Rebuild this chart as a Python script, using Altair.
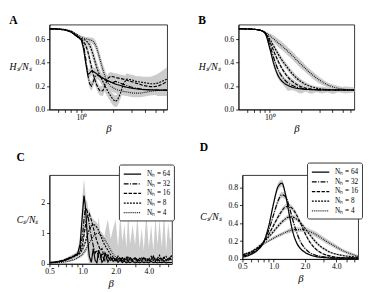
import altair as alt
import pandas as pd

FONT = "Liberation Serif"
NH = ["64", "32", "16", "8", "4"]
DASH = [[1, 0], [5, 1.5, 1, 1.5], [3.5, 1.5], [2, 1.2], [0.9, 1.1]]
BAND = "#cccccc"

# ---------------- Panel A : H_s/N_s (noisy) ----------------
beta_a = [0.5, 0.6, 0.7, 0.8, 0.9, 0.95, 1.0, 1.05, 1.1, 1.15, 1.2, 1.25, 1.3, 1.35, 1.4,
          1.45, 1.5, 1.6, 1.7, 1.8, 1.9, 2.0, 2.1, 2.2, 2.35, 2.5, 2.7, 2.9, 3.1, 3.3, 3.6,
          3.9, 4.2, 4.5, 4.9, 5.3, 5.8, 6.5]
H_A = {
    "64": [0.690, 0.687, 0.680, 0.662, 0.628, 0.612, 0.595, 0.52, 0.40, 0.30, 0.31, 0.33, 0.325,
           0.315, 0.305, 0.295, 0.285, 0.27, 0.255, 0.245, 0.235, 0.225, 0.218, 0.212, 0.205,
           0.198, 0.19, 0.185, 0.18, 0.177, 0.173, 0.17, 0.169, 0.168, 0.167, 0.166, 0.166, 0.165],
    "32": [0.690, 0.687, 0.680, 0.662, 0.628, 0.612, 0.598, 0.55, 0.44, 0.30, 0.22, 0.20, 0.24,
           0.28, 0.295, 0.29, 0.28, 0.265, 0.25, 0.24, 0.235, 0.23, 0.24, 0.235, 0.225, 0.215,
           0.205, 0.195, 0.188, 0.182, 0.176, 0.172, 0.17, 0.169, 0.168, 0.167, 0.167, 0.166],
    "16": [0.690, 0.687, 0.681, 0.664, 0.632, 0.615, 0.60, 0.58, 0.55, 0.50, 0.43, 0.36, 0.30,
           0.25, 0.21, 0.18, 0.16, 0.16, 0.22, 0.27, 0.285, 0.28, 0.275, 0.27, 0.265, 0.26,
           0.25, 0.24, 0.235, 0.225, 0.215, 0.205, 0.20, 0.195, 0.195, 0.20, 0.215, 0.24],
    "8": [0.690, 0.687, 0.682, 0.666, 0.636, 0.62, 0.605, 0.60, 0.59, 0.575, 0.55, 0.51, 0.46,
          0.41, 0.36, 0.32, 0.29, 0.24, 0.19, 0.15, 0.115, 0.085, 0.07, 0.08, 0.14, 0.22, 0.26,
          0.255, 0.25, 0.24, 0.235, 0.23, 0.225, 0.22, 0.22, 0.225, 0.24, 0.26],
    "4": [0.690, 0.688, 0.684, 0.672, 0.645, 0.63, 0.618, 0.61, 0.605, 0.60, 0.595, 0.59, 0.58,
          0.56, 0.525, 0.48, 0.43, 0.34, 0.27, 0.225, 0.20, 0.185, 0.175, 0.168, 0.16, 0.155,
          0.15, 0.145, 0.14, 0.14, 0.14, 0.145, 0.15, 0.155, 0.16, 0.163, 0.165, 0.165],
}
H_A_sd = {
    "64": [0.002, 0.002, 0.003, 0.004, 0.006, 0.008, 0.012, 0.03, 0.04, 0.04, 0.04, 0.04, 0.035,
           0.035, 0.03, 0.03, 0.035, 0.03, 0.035, 0.03, 0.04, 0.035, 0.03, 0.04, 0.035, 0.03,
           0.04, 0.035, 0.04, 0.045, 0.04, 0.045, 0.04, 0.045, 0.04, 0.05, 0.05, 0.05],
    "32": [0.002, 0.002, 0.003, 0.004, 0.006, 0.008, 0.012, 0.03, 0.04, 0.045, 0.04, 0.04, 0.04,
           0.04, 0.035, 0.035, 0.035, 0.03, 0.03, 0.03, 0.03, 0.035, 0.03, 0.03, 0.03, 0.03,
           0.03, 0.03, 0.03, 0.03, 0.03, 0.03, 0.03, 0.03, 0.03, 0.035, 0.04, 0.04],
    "16": [0.002, 0.002, 0.003, 0.004, 0.006, 0.008, 0.012, 0.02, 0.03, 0.04, 0.045, 0.045, 0.045,
           0.04, 0.04, 0.04, 0.04, 0.045, 0.045, 0.04, 0.035, 0.035, 0.035, 0.035, 0.035, 0.035,
           0.035, 0.035, 0.035, 0.035, 0.035, 0.035, 0.04, 0.04, 0.045, 0.05, 0.06, 0.07],
    "8": [0.002, 0.002, 0.003, 0.004, 0.006, 0.008, 0.012, 0.015, 0.02, 0.03, 0.04, 0.045, 0.05,
          0.05, 0.05, 0.05, 0.05, 0.05, 0.05, 0.05, 0.05, 0.05, 0.05, 0.05, 0.05, 0.05, 0.05,
          0.045, 0.045, 0.045, 0.05, 0.05, 0.055, 0.06, 0.07, 0.08, 0.09, 0.1],
    "4": [0.002, 0.002, 0.003, 0.004, 0.006, 0.008, 0.012, 0.015, 0.015, 0.02, 0.02, 0.025, 0.03,
          0.035, 0.04, 0.045, 0.05, 0.05, 0.05, 0.045, 0.04, 0.04, 0.035, 0.035, 0.035, 0.035,
          0.035, 0.035, 0.035, 0.035, 0.035, 0.035, 0.035, 0.035, 0.035, 0.035, 0.035, 0.035],
}

# ---------------- Panels B, D : smooth ----------------
beta_s = [0.5, 0.6, 0.7, 0.8, 0.9, 1.0, 1.1, 1.2, 1.3, 1.4, 1.5, 1.65, 1.8, 2.0, 2.2, 2.5, 2.8,
          3.2, 3.6, 4.0, 4.6, 5.3, 6.5]
H_B = {
    "64": [0.690, 0.688, 0.685, 0.678, 0.650, 0.52, 0.38, 0.29, 0.245, 0.22, 0.205, 0.19, 0.182,
           0.176, 0.172, 0.170, 0.168, 0.167, 0.167, 0.167, 0.167, 0.167, 0.167],
    "32": [0.690, 0.688, 0.685, 0.678, 0.652, 0.55, 0.43, 0.34, 0.285, 0.25, 0.225, 0.205, 0.192,
           0.182, 0.176, 0.171, 0.169, 0.168, 0.167, 0.167, 0.167, 0.167, 0.167],
    "16": [0.690, 0.688, 0.685, 0.678, 0.655, 0.58, 0.49, 0.415, 0.355, 0.31, 0.275, 0.24, 0.215,
           0.195, 0.183, 0.175, 0.171, 0.169, 0.168, 0.167, 0.167, 0.167, 0.167],
    "8": [0.690, 0.688, 0.685, 0.678, 0.657, 0.60, 0.535, 0.475, 0.425, 0.385, 0.35, 0.305, 0.27,
          0.238, 0.215, 0.195, 0.183, 0.175, 0.171, 0.169, 0.168, 0.167, 0.167],
    "4": [0.690, 0.688, 0.685, 0.678, 0.66, 0.63, 0.60, 0.57, 0.545, 0.52, 0.495, 0.46, 0.425,
          0.385, 0.35, 0.305, 0.27, 0.235, 0.21, 0.195, 0.18, 0.172, 0.168],
}
H_B_sd = {
    "64": [0.002, 0.002, 0.003, 0.004, 0.01, 0.025, 0.03, 0.025, 0.02, 0.03, 0.045, 0.025, 0.03,
           0.04, 0.02, 0.035, 0.02, 0.03, 0.02, 0.035, 0.02, 0.03, 0.02],
    "32": [0.002, 0.002, 0.003, 0.004, 0.01, 0.02, 0.025, 0.025, 0.02, 0.02, 0.02, 0.02, 0.015,
           0.02, 0.015, 0.015, 0.02, 0.015, 0.02, 0.02, 0.015, 0.02, 0.02],
    "16": [0.002, 0.002, 0.003, 0.004, 0.008, 0.02, 0.02, 0.02, 0.02, 0.02, 0.02, 0.02, 0.02,
           0.015, 0.015, 0.015, 0.015, 0.015, 0.015, 0.015, 0.015, 0.015, 0.015],
    "8": [0.002, 0.002, 0.003, 0.004, 0.008, 0.02, 0.025, 0.025, 0.025, 0.025, 0.025, 0.025, 0.025,
          0.02, 0.02, 0.015, 0.015, 0.015, 0.015, 0.015, 0.015, 0.015, 0.015],
    "4": [0.002, 0.002, 0.003, 0.004, 0.008, 0.02, 0.03, 0.035, 0.035, 0.035, 0.035, 0.035, 0.035,
          0.035, 0.03, 0.03, 0.03, 0.025, 0.02, 0.02, 0.02, 0.015, 0.015],
}
C_D = {
    "64": [0.02, 0.05, 0.10, 0.19, 0.38, 0.63, 0.81, 0.85, 0.72, 0.52, 0.34, 0.19, 0.12, 0.075,
           0.05, 0.03, 0.02, 0.015, 0.01, 0.01, 0.01, 0.01, 0.01],
    "32": [0.03, 0.06, 0.11, 0.19, 0.33, 0.50, 0.65, 0.72, 0.70, 0.60, 0.47, 0.31, 0.20, 0.12,
           0.075, 0.045, 0.03, 0.02, 0.015, 0.01, 0.01, 0.01, 0.01],
    "16": [0.04, 0.07, 0.12, 0.19, 0.28, 0.38, 0.47, 0.54, 0.585, 0.59, 0.57, 0.50, 0.41, 0.29,
           0.20, 0.12, 0.075, 0.045, 0.03, 0.02, 0.015, 0.01, 0.01],
    "8": [0.05, 0.08, 0.13, 0.19, 0.25, 0.31, 0.37, 0.415, 0.45, 0.47, 0.47, 0.45, 0.41, 0.345,
          0.28, 0.20, 0.145, 0.10, 0.07, 0.055, 0.04, 0.03, 0.02],
    "4": [0.05, 0.08, 0.12, 0.17, 0.205, 0.235, 0.26, 0.28, 0.30, 0.315, 0.325, 0.33, 0.33,
          0.325, 0.31, 0.28, 0.245, 0.20, 0.165, 0.135, 0.095, 0.065, 0.03],
}
C_D_sd = {
    "64": [0.01, 0.01, 0.015, 0.02, 0.03, 0.04, 0.04, 0.04, 0.04, 0.035, 0.03, 0.02, 0.015, 0.01,
           0.01, 0.01, 0.01, 0.01, 0.01, 0.01, 0.01, 0.01, 0.01],
    "32": [0.01, 0.01, 0.015, 0.02, 0.025, 0.03, 0.035, 0.035, 0.035, 0.03, 0.03, 0.025, 0.02,
           0.015, 0.01, 0.01, 0.01, 0.01, 0.01, 0.01, 0.01, 0.01, 0.01],
    "16": [0.01, 0.01, 0.015, 0.02, 0.02, 0.025, 0.03, 0.03, 0.03, 0.03, 0.03, 0.03, 0.025, 0.02,
           0.015, 0.015, 0.01, 0.01, 0.01, 0.01, 0.01, 0.01, 0.01],
    "8": [0.01, 0.01, 0.015, 0.015, 0.02, 0.02, 0.025, 0.025, 0.025, 0.025, 0.025, 0.025, 0.025,
          0.025, 0.02, 0.02, 0.015, 0.015, 0.01, 0.01, 0.01, 0.01, 0.01],
    "4": [0.01, 0.01, 0.015, 0.015, 0.015, 0.02, 0.02, 0.02, 0.02, 0.025, 0.025, 0.025, 0.025,
          0.03, 0.03, 0.03, 0.03, 0.03, 0.025, 0.025, 0.02, 0.02, 0.015],
}

# ---------------- Panel C : C_s/N_s (noisy) ----------------
beta_c = [0.5, 0.55, 0.6, 0.65, 0.7, 0.75, 0.8, 0.85, 0.9, 0.95,
          1.0, 1.03, 1.06, 1.1, 1.15, 1.2, 1.25, 1.3, 1.35, 1.4,
          1.45, 1.5, 1.55, 1.6, 1.7, 1.8, 1.9, 2.0, 2.1, 2.2,
          2.3, 2.4, 2.5, 2.6, 2.7, 2.85, 3.0, 3.15, 3.3, 3.45,
          3.6, 3.8, 4.0, 4.2, 4.4, 4.6, 4.8, 5.0, 5.25, 5.5,
          5.75, 6.0, 6.25, 6.5]
C_C = {
    "64": [0.03, 0.05, 0.07, 0.09, 0.13, 0.17, 0.22, 0.27, 0.33, 0.65,
           1.7, 2.25, 1.9, 1.0, 0.25, 0.05, 0.5, 0.12, 0.03, 0.45,
           0.3, 0.05, 0.12, 0.35, 0.06, 0.22, 0.08, 0.15, 0.05, 0.12,
           0.04, 0.1, 0.03, 0.07, 0.04, 0.08, 0.03, 0.06, 0.03, 0.07,
           0.04, 0.06, 0.03, 0.08, 0.04, 0.06, 0.03, 0.05, 0.04, 0.06,
           0.03, 0.05, 0.04, 0.05],
    "32": [0.04, 0.05, 0.07, 0.1, 0.14, 0.19, 0.24, 0.29, 0.33, 0.48,
           0.95, 1.45, 1.85, 1.75, 1.3, 0.9, 0.6, 0.35, 0.45, 0.22,
           0.14, 0.35, 0.18, 0.1, 0.3, 0.12, 0.2, 0.1, 0.25, 0.12,
           0.2, 0.1, 0.16, 0.08, 0.22, 0.1, 0.18, 0.08, 0.15, 0.1,
           0.2, 0.08, 0.14, 0.1, 0.25, 0.08, 0.15, 0.1, 0.2, 0.08,
           0.14, 0.1, 0.18, 0.12],
    "16": [0.05, 0.06, 0.08, 0.11, 0.15, 0.19, 0.23, 0.27, 0.31, 0.4,
           0.65, 0.95, 1.25, 1.55, 1.65, 1.45, 1.2, 0.95, 0.75, 0.6,
           0.45, 0.5, 0.3, 0.35, 0.22, 0.12, 0.2, 0.1, 0.15, 0.22,
           0.1, 0.18, 0.12, 0.25, 0.1, 0.15, 0.2, 0.1, 0.18, 0.12,
           0.22, 0.1, 0.16, 0.25, 0.12, 0.2, 0.1, 0.18, 0.15, 0.22,
           0.1, 0.2, 0.15, 0.25],
    "8": [0.04, 0.05, 0.07, 0.09, 0.12, 0.16, 0.2, 0.24, 0.29, 0.35,
          0.48, 0.6, 0.72, 0.92, 1.12, 1.24, 1.3, 1.27, 1.2, 1.1,
          0.95, 0.82, 0.7, 0.6, 0.45, 0.3, 0.22, 0.15, 0.12, 0.18,
          0.1, 0.15, 0.22, 0.12, 0.18, 0.1, 0.2, 0.14, 0.1, 0.22,
          0.14, 0.2, 0.1, 0.15, 0.22, 0.12, 0.18, 0.28, 0.1, 0.2,
          0.25, 0.12, 0.22, 0.28],
    "4": [0.02, 0.03, 0.04, 0.05, 0.07, 0.09, 0.12, 0.15, 0.2, 0.25,
          0.32, 0.38, 0.45, 0.55, 0.68, 0.8, 0.9, 0.97, 1.0, 1.0,
          0.97, 0.92, 0.85, 0.78, 0.62, 0.45, 0.32, 0.22, 0.16, 0.12,
          0.1, 0.14, 0.1, 0.08, 0.12, 0.1, 0.08, 0.12, 0.1, 0.15,
          0.1, 0.12, 0.08, 0.15, 0.1, 0.12, 0.18, 0.1, 0.14, 0.2,
          0.12, 0.15, 0.22, 0.25],
}
C_C_sd = {
    "64": [0.02, 0.02, 0.03, 0.03, 0.04, 0.05, 0.06, 0.07, 0.1, 0.3,
           0.6, 0.55, 0.4, 0.7, 0.9, 1.3, 1.0, 1.2, 0.8, 1.1,
           0.7, 1.0, 0.5, 0.7, 1.4, 0.6, 1.1, 1.3, 0.5, 1.5,
           0.7, 1.2, 0.5, 1.6, 0.6, 1.2, 0.6, 1.5, 0.5, 1.1,
           0.4, 1.6, 0.5, 1.2, 0.4, 1.5, 0.6, 1.4, 0.5, 1.6,
           0.4, 1.3, 0.7, 1.0],
    "32": [0.02, 0.02, 0.03, 0.03, 0.04, 0.05, 0.05, 0.06, 0.08, 0.15,
           0.3, 0.35, 0.3, 0.3, 0.3, 0.3, 0.3, 0.35, 0.3, 0.3,
           0.3, 0.3, 0.3, 0.3, 0.25, 0.25, 0.25, 0.25, 0.25, 0.25,
           0.25, 0.25, 0.25, 0.25, 0.25, 0.25, 0.25, 0.25, 0.25, 0.25,
           0.25, 0.25, 0.25, 0.25, 0.25, 0.25, 0.25, 0.25, 0.25, 0.25,
           0.25, 0.25, 0.25, 0.25],
    "16": [0.02, 0.02, 0.03, 0.03, 0.04, 0.05, 0.05, 0.06, 0.08, 0.12,
           0.2, 0.2, 0.2, 0.15, 0.15, 0.15, 0.2, 0.2, 0.2, 0.2,
           0.2, 0.2, 0.2, 0.2, 0.2, 0.2, 0.2, 0.2, 0.2, 0.2,
           0.2, 0.2, 0.2, 0.2, 0.2, 0.2, 0.2, 0.2, 0.2, 0.2,
           0.2, 0.2, 0.2, 0.2, 0.2, 0.2, 0.2, 0.2, 0.2, 0.2,
           0.2, 0.2, 0.2, 0.2],
    "8": [0.02, 0.02, 0.03, 0.03, 0.04, 0.04, 0.05, 0.05, 0.06, 0.08,
          0.1, 0.12, 0.12, 0.15, 0.15, 0.15, 0.15, 0.15, 0.15, 0.15,
          0.15, 0.15, 0.15, 0.15, 0.15, 0.15, 0.15, 0.15, 0.15, 0.15,
          0.15, 0.15, 0.15, 0.15, 0.15, 0.15, 0.15, 0.15, 0.15, 0.15,
          0.15, 0.15, 0.15, 0.15, 0.15, 0.15, 0.15, 0.15, 0.15, 0.15,
          0.15, 0.15, 0.15, 0.15],
    "4": [0.01, 0.01, 0.02, 0.02, 0.03, 0.03, 0.04, 0.04, 0.05, 0.06,
          0.07, 0.08, 0.08, 0.1, 0.1, 0.1, 0.1, 0.1, 0.1, 0.1,
          0.1, 0.1, 0.1, 0.1, 0.1, 0.1, 0.1, 0.1, 0.1, 0.1,
          0.1, 0.1, 0.1, 0.1, 0.1, 0.1, 0.1, 0.1, 0.1, 0.1,
          0.1, 0.1, 0.1, 0.1, 0.1, 0.1, 0.1, 0.1, 0.1, 0.1,
          0.1, 0.1, 0.1, 0.1],
}


def long_df(betas, mean, sd):
    rows = []
    for nh in NH:
        for b, m, s in zip(betas, mean[nh], sd[nh]):
            rows.append({"beta": b, "v": m, "lo": max(0.0, m - s), "hi": m + s, "Nh": nh})
    return pd.DataFrame(rows)


XMINOR = [0.6, 0.7, 0.8, 0.9, 1, 2, 3, 4, 5, 6]
XTICKS_CD = [0.5, 0.6, 0.7, 0.8, 0.9, 1, 2, 3, 4, 5, 6]
LBL_AB = "datum.value == 1 ? '10⁰' : ''"
LBL_CD = ("datum.value == 0.5 ? '0.5' : datum.value == 1 ? '1.0' : "
          "datum.value == 2 ? '2.0' : datum.value == 4 ? '4.0' : ''")


def panel(df, letter, ytitle, ydom, yvals, yfmt, w, h, xvals, xlbl, ytx, interp,
          legend_xy=None, title_offset=0):
    x_axis = alt.Axis(values=xvals, labelExpr=xlbl, title="β", titleFont=FONT,
                      titleFontStyle="italic", titleFontSize=11, titleFontWeight="normal",
                      titlePadding=2, labelFont=FONT, labelFontSize=8, labelFlush=False,
                      labelOverlap=False, tickSize=3, tickColor="black", domainColor="black",
                      labelColor="black", grid=False, labelPadding=1)
    y_axis = alt.Axis(values=yvals, format=yfmt, title=ytitle, titleAngle=0,
                      titleAlign="right", titleBaseline="middle", titleX=ytx, titleY=h / 2,
                      titleFont=FONT, titleFontStyle="italic", titleFontSize=10,
                      titleFontWeight="normal", labelFont=FONT, labelFontSize=8, tickSize=3,
                      tickColor="black", domainColor="black", labelColor="black", grid=False,
                      labelPadding=2, labelOverlap=False, labelFlush=False, labelBound=False)
    xs = alt.X("beta:Q", scale=alt.Scale(type="log", domain=[0.5, 6.5], nice=False), axis=x_axis)
    yscale = alt.Scale(domain=ydom, nice=False, zero=False)
    band = alt.Chart(df).mark_area(color=BAND, opacity=1, clip=True, interpolate=interp).encode(
        x=xs,
        y=alt.Y("lo:Q", scale=yscale, axis=y_axis),
        y2="hi:Q",
        detail="Nh:N",
    )
    if legend_xy is None:
        leg = None
    else:
        leg = alt.Legend(title=None, orient="none", legendX=legend_xy[0], legendY=legend_xy[1],
                         symbolType="M-1.8,0H1.8", symbolStrokeColor="black", symbolSize=100,
                         symbolFillColor="transparent", symbolOffset=4,
                         symbolStrokeWidth=1.3, labelFont=FONT, labelFontSize=7.5,
                         labelExpr="'Nₕ = ' + datum.label", fillColor="white",
                         strokeColor="#333333", padding=4, cornerRadius=2, rowPadding=0,
                         labelOffset=9, labelColor="black")
    line = alt.Chart(df).mark_line(color="black", strokeWidth=1.2, clip=True,
                                   interpolate=interp).encode(
        x=xs,
        y=alt.Y("v:Q", scale=yscale, axis=y_axis),
        strokeDash=alt.StrokeDash("Nh:N", scale=alt.Scale(domain=NH, range=DASH), legend=leg),
        detail="Nh:N",
    )
    return alt.layer(band, line).properties(
        width=w, height=h,
        title=alt.TitleParams(letter, anchor="start", frame="bounds", font=FONT, fontSize=12,
                              fontWeight="bold", offset=title_offset, color="black"),
    )


dfA = long_df(beta_a, H_A, H_A_sd)
dfB = long_df(beta_s, H_B, H_B_sd)
dfC = long_df(beta_c, C_C, C_C_sd)
dfD = long_df(beta_s, C_D, C_D_sd)

A = panel(dfA, "A", "Hₛ/Nₛ", [0, 0.725], [0, 0.2, 0.4, 0.6], ".1f", 122, 88, XMINOR, LBL_AB,
          -19, "linear", title_offset=-2)
B = panel(dfB, "B", "Hₛ/Nₛ", [0, 0.725], [0, 0.2, 0.4, 0.6], ".1f", 120, 88, XMINOR, LBL_AB,
          -19, "monotone", title_offset=-2)
C = panel(dfC, "C", "Cₛ/Nₛ", [0, 2.92], [0, 1, 2], "d", 127, 92, XTICKS_CD, LBL_CD,
          -12, "linear", legend_xy=(72, -11))
D = panel(dfD, "D", "Cₛ/Nₛ", [0, 0.94], [0, 0.2, 0.4, 0.6, 0.8], ".1f", 120, 87, XTICKS_CD,
          LBL_CD, -22, "monotone", legend_xy=(67, -13), title_offset=8)

row1 = alt.hconcat(A, B, spacing=30).resolve_scale(strokeDash="independent").resolve_legend(
    strokeDash="independent")
row2 = alt.hconcat(C, D, spacing=25).resolve_scale(strokeDash="independent").resolve_legend(
    strokeDash="independent")
chart = alt.vconcat(row1, row2, spacing=7).resolve_scale(
    strokeDash="independent").resolve_legend(strokeDash="independent").properties(
    padding=0, background="white"
).configure_view(stroke="black", strokeWidth=0.8).configure_axis(
    domainWidth=0.8, tickWidth=0.8, labelOverlap=False)

chart.save("out.html", embed_options={"renderer": "svg", "actions": False})
